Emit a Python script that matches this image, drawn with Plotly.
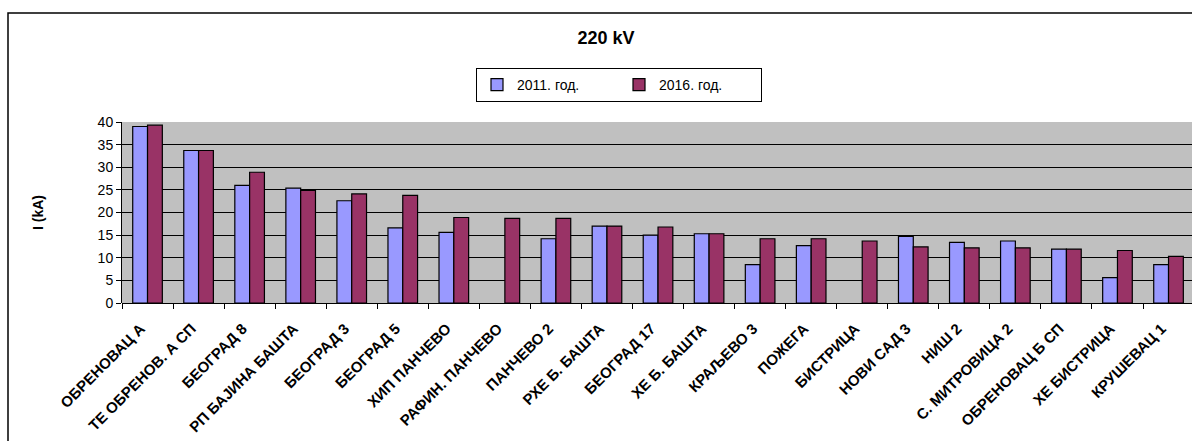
import plotly.graph_objects as go

# Substations (220 kV) and short-circuit currents in kA
stations = [
    "ОБРЕНОВАЦ А", "ТЕ ОБРЕНОВ. А СП", "БЕОГРАД 8", "РП БАЈИНА БАШТА", "БЕОГРАД 3",
    "БЕОГРАД 5", "ХИП ПАНЧЕВО", "РАФИН. ПАНЧЕВО", "ПАНЧЕВО 2", "РХЕ Б. БАШТА",
    "БЕОГРАД 17", "ХЕ Б. БАШТА", "КРАЉЕВО 3", "ПОЖЕГА", "БИСТРИЦА",
    "НОВИ САД 3", "НИШ 2", "С. МИТРОВИЦА 2", "ОБРЕНОВАЦ Б СП", "ХЕ БИСТРИЦА",
    "КРУШЕВАЦ 1",
]
i_2011 = [39.0, 33.7, 26.0, 25.4, 22.6, 16.6, 15.6, None, 14.2, 17.0,
          15.0, 15.3, 8.5, 12.7, None, 14.7, 13.4, 13.7, 11.9, 5.6, 8.5]
i_2016 = [39.3, 33.7, 28.9, 24.9, 24.1, 23.8, 18.9, 18.7, 18.7, 17.0,
          16.8, 15.3, 14.2, 14.2, 13.7, 12.4, 12.2, 12.2, 11.9, 11.6, 10.3]
series_names = ["2011. год.", "2016. год."]
y_ticks = [0, 5, 10, 15, 20, 25, 30, 35, 40]

W, H = 1192, 441
L, R, T, B = 122, 0, 122, 138
FONT = "Liberation Sans, Arial, sans-serif"

fig = go.Figure()
fig.add_trace(go.Bar(x=stations, y=i_2011, name=series_names[0],
                     marker=dict(color="#9999FF", line=dict(color="black", width=1.2))))
fig.add_trace(go.Bar(x=stations, y=i_2016, name=series_names[1],
                     marker=dict(color="#993366", line=dict(color="black", width=1.2))))

pw = W - L - R
ph = H - T - B

# outer chart frame (left and top edges visible, the rest runs off the page)
fig.add_shape(type="rect", xref="paper", yref="paper", layer="above",
              x0=(8 - L) / pw, x1=(W + 10 - L) / pw,
              y0=(H - B - (H + 10)) / ph, y1=(H - B - 13) / ph,
              line=dict(color="black", width=1.5))

cat_w = 51.05  # pixel width of one category slot
fig.update_layout(
    width=W, height=H,
    margin=dict(l=L, r=R, t=T, b=B, pad=0),
    paper_bgcolor="white",
    plot_bgcolor="#C0C0C0",
    barmode="group", bargap=0.42, bargroupgap=0.0,
    font=dict(family=FONT, size=13, color="black"),
    title=dict(text="<b>220 kV</b>", x=606 / W, xanchor="center",
               y=1 - 38 / H, yanchor="middle", font=dict(size=18, family=FONT)),
    legend=dict(orientation="h", x=(476 - L) / pw, xanchor="left",
                y=(H - B - 68) / ph, yanchor="top",
                bordercolor="black", borderwidth=1, bgcolor="white",
                font=dict(size=14, family=FONT),
                entrywidth=97, entrywidthmode="pixels",
                itemwidth=30, tracegroupgap=0),
    xaxis=dict(type="category", range=[-0.5, -0.5 + pw / cat_w],
               showline=False, ticks="outside", ticklen=5, tickcolor="black",
               tickson="boundaries", tickangle=-45, showgrid=False,
               ticklabelstandoff=13, ticklabelshift=-7,
               tickfont=dict(size=15, family=FONT, weight="bold")),
    yaxis=dict(range=[0, 40], tickvals=y_ticks, ticks="outside", ticklen=5,
               tickcolor="black", showline=True, linecolor="black", linewidth=1,
               showgrid=True, gridcolor="black", gridwidth=1, zeroline=True,
               zerolinecolor="black", zerolinewidth=1,
               tickfont=dict(size=14, family=FONT),
               title=dict(text="<b>I (kA)</b>", font=dict(size=14, family=FONT),
                          standoff=50)),
)

fig.write_html("out.html")
